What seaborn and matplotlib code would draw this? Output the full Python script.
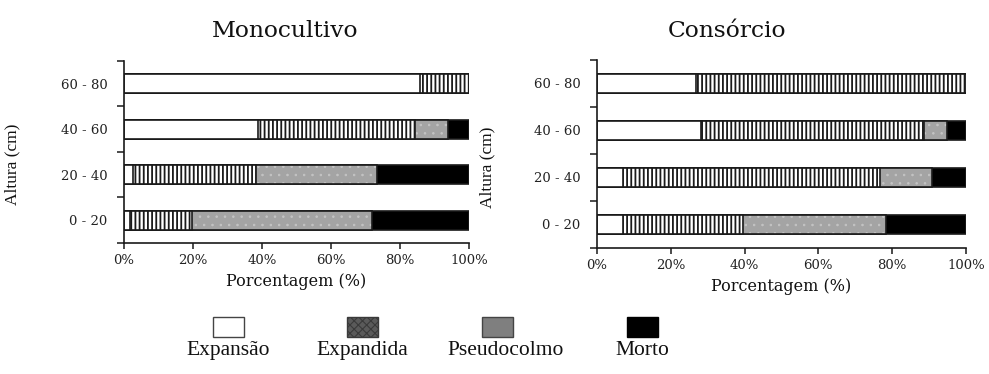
import matplotlib
matplotlib.use("Agg")
import matplotlib.pyplot as plt
import seaborn as sns
import numpy as np
from matplotlib.patches import Rectangle
from matplotlib.ticker import FixedLocator

# ---- data ----
categories = ['60 - 80', '40 - 60', '20 - 40', '0 - 20']
mono_expansao = [85.7, 38.7, 2.6, 1.7]
mono_expandida = [14.3, 45.7, 35.6, 17.9]
mono_pseudo = [0.0, 9.4, 35.1, 52.2]
mono_morto = [0.0, 6.2, 26.7, 28.2]

cons_expansao = [26.8, 28.1, 7.1, 7.1]
cons_expandida = [73.2, 60.4, 69.5, 32.4]
cons_pseudo = [0.0, 6.3, 14.1, 38.7]
cons_morto = [0.0, 5.2, 9.3, 21.8]

titles = ['Monocultivo', 'Consórcio']
legend_labels = ['Expansão', 'Expandida', 'Pseudocolmo', 'Morto']
x_ticks = [0, 20, 40, 60, 80, 100]
x_ticklabels = ['0%', '20%', '40%', '60%', '80%', '100%']

sns.set_theme(style='white')
plt.rcParams['font.family'] = ['DejaVu Serif', 'DejaVu Sans']
plt.rcParams['hatch.linewidth'] = 1.3

fig = plt.figure(figsize=(9.89, 3.74), dpi=100)
ax1 = fig.add_axes([0.1254, 0.3503, 0.3488, 0.4866])
ax2 = fig.add_axes([0.6036, 0.3369, 0.3731, 0.5027])

EDGE = '#1a1a1a'
LW = 1.2
BW = 0.42


def draw(ax, expa, expd, pseu, mort, ylab_x, xlab_pad):
    expa = np.array(expa); expd = np.array(expd)
    pseu = np.array(pseu); mort = np.array(mort)
    c1 = expa
    c2 = c1 + expd
    c3 = c2 + pseu
    c4 = c3 + mort
    # Morto (full length)
    sns.barplot(x=c4, y=categories, orient='h', color='black', saturation=1,
                edgecolor=EDGE, linewidth=LW, width=BW, ax=ax)
    # Pseudocolmo gray with faint dots
    plt.rcParams['hatch.linewidth'] = 0.6
    sns.barplot(x=c3, y=categories, orient='h', color='#a4a4a4', saturation=1,
                edgecolor='#c4c4c4', linewidth=0, hatch='..', width=BW, ax=ax)
    sns.barplot(x=c3, y=categories, orient='h', color=EDGE, fill=False,
                linewidth=LW, width=BW, ax=ax)
    plt.rcParams['hatch.linewidth'] = 1.3
    # Expandida vertical hatch
    sns.barplot(x=c2, y=categories, orient='h', color='white', saturation=1,
                edgecolor=EDGE, linewidth=LW, hatch='||||', width=BW, ax=ax)
    # Expansao white
    sns.barplot(x=c1, y=categories, orient='h', color='white', saturation=1,
                edgecolor=EDGE, linewidth=LW, width=BW, ax=ax)

    ax.set_xlim(0, 100)
    ax.set_ylim(3.5, -0.5)
    ax.set_xticks(x_ticks)
    ax.set_xticklabels(x_ticklabels, fontsize=9.5, color='#222222')
    ax.set_yticks(range(len(categories)))
    ax.set_yticklabels(categories, fontsize=9.5, color='#222222')
    ax.yaxis.set_minor_locator(FixedLocator([-0.5, 0.5, 1.5, 2.5, 3.5]))
    ax.tick_params(axis='y', which='major', left=True, length=0, pad=12)
    ax.tick_params(axis='y', which='minor', left=True, length=5, width=1.1,
                   color=EDGE, direction='out')
    ax.tick_params(axis='x', which='major', bottom=True, length=4, width=1.1,
                   color=EDGE, direction='out', pad=4)
    for s in ['top', 'right']:
        ax.spines[s].set_visible(False)
    for s in ['left', 'bottom']:
        ax.spines[s].set_color(EDGE)
        ax.spines[s].set_linewidth(1.2)
    ax.set_xlabel('Porcentagem (%)', fontsize=11.5, labelpad=xlab_pad, color='#111111')
    ax.set_ylabel('Altura (cm)', fontsize=12.5, family=['Liberation Serif'], color='#111111')
    ax.yaxis.set_label_coords(ylab_x, 0.43)
    ax.grid(False)


draw(ax1, mono_expansao, mono_expandida, mono_pseudo, mono_morto, -0.30, 4)
draw(ax2, cons_expansao, cons_expandida, cons_pseudo, cons_morto, -0.276, 4)

fig.text(285 / 989, 1 - 37 / 374, titles[0], ha='center', va='baseline', fontsize=16.8, color='#111111')
fig.text(727 / 989, 1 - 37 / 374, titles[1], ha='center', va='baseline', fontsize=16.8, color='#111111')

# ---- legend ----
leg_x = [213, 347, 482, 627]
leg_face = ['white', '#5a5a5a', '#7f7f7f', 'black']
leg_edge = ['#444444', '#3a3a3a', '#444444', 'black']
leg_hatch = [None, 'xxxx', None, None]
leg_cx = [228, 362, 506, 642]
plt.rcParams['hatch.linewidth'] = 0.8
for x0, fc, ec, h, cx, lab in zip(leg_x, leg_face, leg_edge, leg_hatch, leg_cx, legend_labels):
    r = Rectangle((x0 / 989, 1 - 337 / 374), 31 / 989, 20 / 374, transform=fig.transFigure,
                  facecolor=fc, edgecolor=ec, linewidth=1.0, hatch=h)
    fig.add_artist(r)
    fig.text(cx / 989, 1 - 355 / 374, lab, ha='center', va='baseline', fontsize=15.5,
             family=['Liberation Serif'], color='#111111')

fig.savefig('out.png', dpi=100)
